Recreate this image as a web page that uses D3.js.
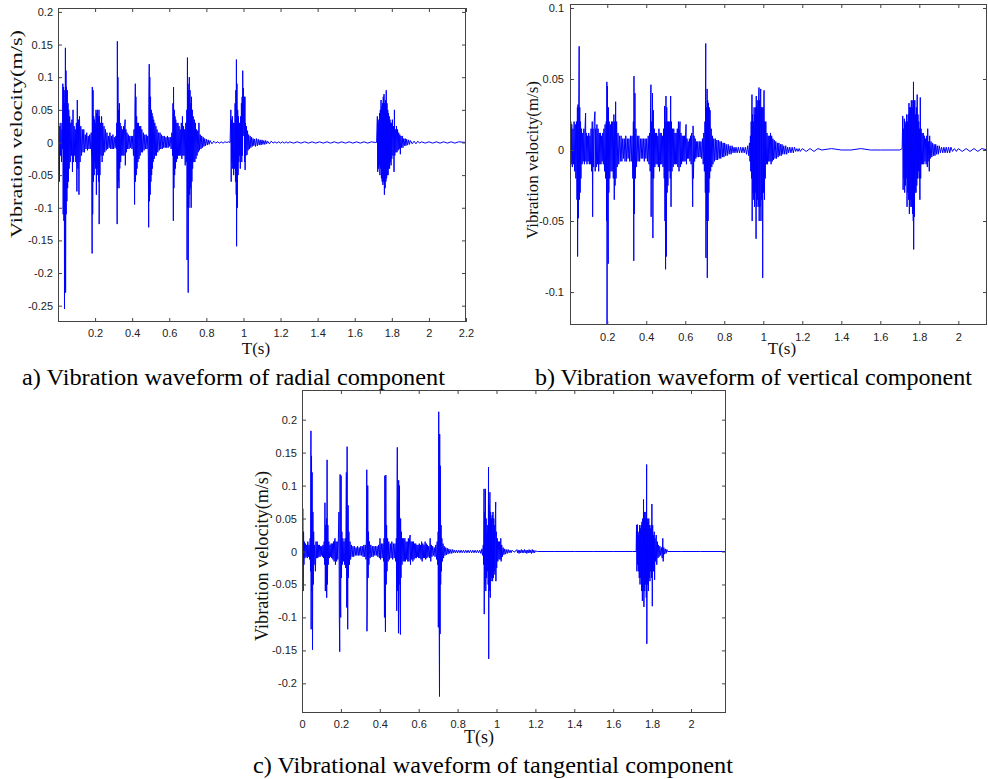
<!DOCTYPE html>
<html><head><meta charset="utf-8">
<script src="https://cdn.jsdelivr.net/npm/d3@7/dist/d3.min.js"></script>
<style>body{margin:0;background:#fff}svg{display:block}</style>
</head><body><svg id="chart" width="988" height="779"></svg>
<script>
// ---------- tick values ----------
const radialXTicks = [0.2,0.4,0.6,0.8,1,1.2,1.4,1.6,1.8,2,2.2];
const radialYTicks = [0.2,0.15,0.1,0.05,0,-0.05,-0.1,-0.15,-0.2,-0.25];
const verticalXTicks = [0.2,0.4,0.6,0.8,1,1.2,1.4,1.6,1.8,2];
const verticalYTicks = [0.1,0.05,0,-0.05,-0.1];
const tangentialXTicks = [0,0.2,0.4,0.6,0.8,1,1.2,1.4,1.6,1.8,2];
const tangentialYTicks = [0.2,0.15,0.1,0.05,0,-0.05,-0.1,-0.15,-0.2];

// ---------- texts ----------
const captions = ["a) Vibration waveform of radial component","b) Vibration waveform of vertical component","c) Vibrational waveform of tangential component"];
const yLabel = "Vibration velocity(m/s)";
const xLabel = "T(s)";

// ---------- series: [time (s), velocity (m/s)] ----------
const radialData = [[0.000,0.00],[0.002,-0.08],[0.004,0.03],[0.007,-0.06],[0.010,0.025],[0.013,-0.02],[0.016,0.03],[0.019,-0.03],[0.022,0.02],[0.024,-0.01],
[0.026,0.09],[0.028,-0.11],[0.030,0.085],[0.032,-0.12],[0.034,0.06],[0.035,-0.255],[0.037,0.08],[0.039,-0.11],[0.040,0.145],[0.041,-0.23],[0.043,0.11],[0.044,-0.11],[0.046,0.085],[0.048,-0.09],[0.050,0.08],[0.052,-0.07],[0.054,0.06],[0.056,-0.06],[0.058,0.05],[0.060,-0.04],[0.063,0.04],[0.066,-0.03],
[0.069,0.03],[0.072,-0.02],[0.075,0.035],[0.078,-0.045],[0.081,0.05],[0.084,-0.03],[0.087,0.025],[0.090,-0.02],[0.093,0.02],[0.096,-0.03],[0.099,0.03],[0.102,-0.075],[0.104,0.065],[0.107,-0.04],[0.110,0.035],[0.113,-0.08],[0.116,0.04],[0.119,-0.03],
[0.123,0.025],[0.127,-0.02],[0.131,0.02],[0.135,-0.015],[0.139,0.02],[0.143,-0.015],[0.147,0.012],[0.151,-0.01],[0.155,0.015],[0.159,-0.012],[0.163,0.01],[0.167,-0.01],[0.171,0.012],[0.175,-0.01],[0.179,0.015],
[0.182,-0.03],[0.184,-0.17],[0.185,0.085],[0.187,-0.11],[0.189,0.08],[0.191,-0.06],[0.193,0.04],[0.195,-0.05],[0.197,0.035],[0.199,-0.03],[0.201,0.03],[0.203,-0.04],[0.205,0.05],[0.207,-0.08],[0.209,0.045],[0.211,-0.05],[0.213,0.05],[0.215,-0.04],[0.217,0.04],[0.219,-0.06],[0.221,0.05],[0.222,-0.125],[0.224,0.04],[0.226,-0.05],[0.229,0.03],[0.232,-0.02],[0.235,0.04],[0.238,-0.03],[0.241,0.03],[0.244,-0.02],[0.248,0.025],[0.252,-0.015],[0.256,0.02],[0.260,-0.012],[0.264,0.015],[0.268,-0.01],[0.272,0.01],[0.276,-0.008],[0.280,0.015],[0.284,-0.01],[0.288,0.01],[0.292,-0.01],[0.296,0.012],[0.300,-0.01],[0.304,0.008],[0.308,-0.008],[0.312,0.01],[0.315,-0.01],
[0.317,0.03],[0.319,-0.125],[0.320,0.155],[0.322,-0.07],[0.323,0.1],[0.325,-0.06],[0.327,0.05],[0.329,-0.07],[0.331,0.06],[0.333,-0.04],[0.335,0.03],[0.338,-0.03],[0.341,0.025],[0.344,-0.02],[0.347,0.02],[0.350,-0.02],[0.353,0.025],[0.356,-0.02],[0.359,0.025],[0.362,0.035],[0.363,-0.035],[0.366,0.02],[0.369,-0.015],[0.372,0.015],[0.375,-0.01],[0.379,0.012],[0.383,-0.01],[0.387,0.01],[0.391,-0.008],[0.395,0.01],[0.399,-0.01],[0.403,0.01],[0.407,-0.02],[0.410,0.02],
[0.413,-0.095],[0.415,0.05],[0.417,0.09],[0.418,-0.06],[0.420,0.07],[0.422,-0.05],[0.424,0.04],[0.426,-0.04],[0.428,0.03],[0.431,-0.03],[0.434,0.03],[0.437,-0.025],[0.440,0.025],[0.443,-0.02],[0.446,0.025],[0.449,-0.015],[0.452,0.02],[0.456,-0.015],[0.460,0.015],[0.464,-0.012],[0.468,0.012],[0.472,-0.01],[0.476,0.012],[0.480,-0.01],[0.484,0.01],[0.487,-0.02],
[0.489,-0.13],[0.490,0.06],[0.492,0.12],[0.493,-0.09],[0.495,0.1],[0.497,-0.08],[0.499,0.07],[0.501,-0.06],[0.503,0.05],[0.505,-0.05],[0.507,0.045],[0.509,-0.04],[0.511,0.04],[0.513,-0.03],[0.516,0.035],[0.519,-0.025],[0.522,0.03],[0.525,-0.02],[0.528,0.025],[0.531,-0.02],[0.534,0.02],[0.538,-0.015],[0.542,0.015],[0.546,-0.012],[0.550,0.015],[0.554,-0.01],[0.558,0.012],[0.562,-0.01],[0.566,0.01],[0.570,-0.008],[0.574,0.01],[0.578,-0.008],[0.582,0.008],[0.586,-0.008],[0.590,0.01],[0.594,-0.008],[0.598,0.008],[0.602,-0.006],[0.606,0.008],[0.610,-0.01],[0.614,0.015],[0.618,-0.02],
[0.620,0.06],[0.622,-0.12],[0.623,0.085],[0.625,-0.07],[0.627,0.05],[0.629,-0.05],[0.631,0.04],[0.633,-0.04],[0.635,0.035],[0.638,-0.03],[0.641,0.03],[0.644,-0.025],[0.647,0.03],[0.650,-0.02],[0.653,0.025],[0.656,-0.02],[0.659,0.02],[0.662,-0.02],[0.665,0.03],[0.668,-0.025],[0.671,0.04],[0.674,-0.02],[0.677,0.025],[0.680,-0.02],[0.683,0.02],[0.686,-0.035],[0.689,0.03],[0.692,-0.03],[0.695,0.05],
[0.696,-0.18],[0.698,0.13],[0.699,-0.1],[0.701,0.09],[0.702,-0.23],[0.704,0.08],[0.706,-0.1],[0.708,0.1],[0.710,-0.08],[0.712,0.08],[0.714,-0.07],[0.716,0.06],[0.718,-0.1],[0.720,0.07],[0.722,-0.06],[0.724,0.05],[0.726,-0.04],[0.729,0.04],[0.732,-0.03],[0.735,0.035],[0.738,-0.03],[0.741,0.03],[0.744,-0.025],[0.747,0.02],[0.750,-0.02],[0.753,0.018],[0.756,-0.015],[0.760,0.03],[0.763,-0.012],[0.767,0.012],[0.771,-0.01],[0.775,0.01],[0.779,-0.008],[0.783,0.008],[0.787,-0.006],[0.791,0.006],[0.795,-0.005],[0.800,0.005],[0.805,-0.004],[0.810,0.004],[0.815,-0.003],[0.820,0.003],[0.830,-0.002],[0.840,0.002],[0.850,-0.001],[0.860,0.001],[0.870,-0.001],[0.880,0.001],[0.890,-0.001],[0.900,0.001],[0.910,0],[0.920,0.001],[0.928,0],
[0.932,0.05],[0.934,-0.06],[0.936,0.035],[0.938,-0.03],[0.940,0.04],[0.942,-0.04],[0.945,0.03],[0.947,-0.05],[0.950,0.03],[0.952,-0.04],[0.955,0.06],[0.957,-0.06],[0.959,0.08],[0.961,-0.08],[0.962,0.127],[0.963,-0.159],[0.965,0.09],[0.967,-0.1],[0.969,0.05],[0.971,-0.05],[0.973,0.04],[0.975,-0.03],[0.977,0.03],[0.979,-0.02],[0.981,0.03],[0.983,-0.04],[0.985,0.04],[0.987,-0.02],[0.989,0.06],[0.991,-0.03],[0.993,0.07],[0.995,-0.02],[0.996,0.11],[0.998,0.03],[1.000,0.083],[1.002,0.01],[1.004,0.07],[1.006,-0.03],[1.008,0.07],[1.009,-0.042],[1.011,0.03],[1.013,-0.02],[1.016,0.025],[1.019,-0.019],[1.022,0.018],[1.025,-0.012],[1.028,0.012],[1.032,-0.01],[1.036,0.01],[1.040,-0.008],[1.044,0.008],[1.048,-0.006],[1.052,0.006],[1.056,-0.005],[1.060,0.005],[1.065,-0.006],[1.070,0.006],[1.075,-0.005],[1.080,0.005],[1.085,-0.004],[1.090,0.004],[1.095,-0.004],[1.100,0.004],[1.105,-0.003],[1.110,0.003],[1.115,-0.003],[1.120,0.003],[1.125,-0.002],[1.130,0.002],[1.140,-0.002],[1.150,0.002],[1.160,-0.001],[1.170,0.001],[1.18,-0.001],[1.19,0.001],[1.20,-0.001],[1.21,0.001],[1.22,-0.001],[1.23,0.001],[1.24,-0.001],[1.25,0.001],[1.27,-0.001],[1.29,0.001],[1.31,-0.001],[1.33,0.001],[1.35,-0.001],[1.37,0.001],[1.39,-0.001],[1.41,0.001],[1.43,-0.001],[1.45,0.001],[1.47,-0.001],[1.49,0.001],[1.51,-0.001],[1.53,0.001],[1.55,-0.001],[1.57,0.001],[1.59,-0.001],[1.61,0.001],[1.63,-0.001],[1.65,0.001],[1.67,-0.001],[1.69,0.001],[1.71,0],[1.718,0],
[1.722,0.04],[1.724,-0.045],[1.726,0.03],[1.728,-0.04],[1.730,0.035],[1.732,-0.035],[1.734,0.045],[1.736,-0.05],[1.738,0.05],[1.740,-0.04],[1.742,0.065],[1.744,-0.055],[1.746,0.055],[1.748,-0.06],[1.750,0.06],[1.752,-0.065],[1.754,0.07],[1.756,-0.06],[1.758,0.074],[1.760,-0.08],[1.762,0.06],[1.764,-0.07],[1.766,0.065],[1.768,-0.06],[1.770,0.08],[1.772,-0.055],[1.774,0.06],[1.776,-0.05],[1.778,0.05],[1.780,-0.05],[1.782,0.045],[1.784,-0.04],[1.786,0.04],[1.788,-0.04],[1.790,0.035],[1.792,-0.03],[1.794,0.03],[1.796,-0.035],[1.798,0.03],[1.800,-0.025],[1.803,0.035],[1.806,-0.02],[1.809,0.025],[1.812,-0.045],[1.814,0.05],[1.816,-0.02],[1.819,0.02],[1.822,-0.015],[1.825,0.025],[1.828,-0.015],[1.831,0.02],[1.834,-0.012],[1.837,0.015],[1.840,-0.01],[1.843,0.012],[1.846,-0.018],[1.849,0.01],[1.852,-0.008],[1.856,0.01],[1.860,-0.008],[1.864,0.006],[1.868,-0.005],[1.872,0.006],[1.876,-0.005],[1.880,0.005],[1.885,-0.004],[1.890,0.004],[1.895,-0.003],[1.900,0.003],[1.91,-0.002],[1.92,0.002],[1.93,-0.002],[1.94,0.002],[1.95,-0.001],[1.96,0.001],[1.98,-0.001],[2.00,0.001],[2.02,-0.001],[2.04,0.001],[2.06,-0.001],[2.08,0.001],[2.10,-0.001],[2.12,0.001],[2.14,-0.001],[2.16,0.001],[2.2,0]];

const verticalData = [[0.009,0.024],[0.011,-0.03],[0.013,0.02],[0.015,-0.01],[0.018,0.018],[0.021,-0.012],[0.024,0.015],[0.027,-0.01],[0.030,0.02],[0.033,-0.015],[0.036,0.018],[0.039,-0.02],[0.042,0.02],[0.045,-0.035],[0.047,0.03],[0.048,-0.075],[0.050,0.032],[0.052,-0.048],[0.054,0.03],[0.056,0.073],[0.057,-0.035],[0.059,0.03],[0.061,-0.03],[0.063,0.02],[0.065,-0.02],[0.068,0.015],[0.071,-0.01],[0.074,0.012],[0.077,-0.008],[0.080,0.015],[0.083,-0.01],[0.086,0.015],[0.089,0.026],[0.090,-0.008],[0.093,0.012],[0.096,-0.01],[0.099,0.01],[0.102,-0.008],[0.105,0.012],[0.108,-0.01],[0.111,0.01],[0.114,-0.01],[0.117,0.015],[0.120,-0.015],[0.123,0.02],[0.125,-0.047],[0.127,0.015],[0.130,-0.012],[0.133,0.02],[0.137,0.027],[0.138,-0.015],[0.141,0.015],[0.144,-0.012],[0.147,0.018],[0.150,-0.01],[0.153,0.015],[0.156,-0.015],[0.159,0.012],[0.162,-0.01],[0.165,0.012],[0.168,-0.01],[0.171,0.01],[0.174,-0.008],[0.177,0.012],[0.180,-0.01],[0.183,0.015],[0.186,-0.015],[0.189,0.018],[0.192,-0.02],[0.195,0.02],[0.197,-0.05],[0.198,0.048],[0.199,-0.125],[0.201,0.045],[0.203,-0.04],[0.205,-0.08],[0.206,0.03],[0.208,-0.03],[0.210,0.02],[0.213,-0.02],[0.216,0.018],[0.219,-0.015],[0.222,0.02],[0.225,-0.015],[0.228,0.02],[0.231,-0.02],[0.234,0.025],[0.236,-0.035],[0.238,0.02],[0.240,-0.025],[0.243,0.034],[0.245,-0.02],[0.248,0.02],[0.251,-0.012],[0.255,0.012],[0.259,-0.01],[0.263,0.01],[0.267,-0.008],[0.271,0.01],[0.275,-0.008],[0.279,0.008],[0.283,-0.006],[0.287,0.008],[0.291,-0.008],[0.295,0.01],[0.299,-0.008],[0.303,0.008],[0.307,-0.006],[0.311,0.008],[0.315,-0.008],[0.319,0.01],[0.323,-0.008],[0.327,0.01],[0.331,-0.02],[0.334,0.02],[0.336,-0.078],[0.337,0.052],[0.339,-0.045],[0.342,0.04],[0.344,-0.02],[0.347,0.015],[0.350,-0.012],[0.354,0.01],[0.358,-0.008],[0.362,0.01],[0.366,-0.008],[0.370,0.008],[0.374,-0.006],[0.378,0.008],[0.382,-0.006],[0.386,0.008],[0.390,-0.008],[0.394,0.008],[0.398,-0.006],[0.402,0.008],[0.406,-0.008],[0.410,0.01],[0.414,-0.01],[0.417,0.012],[0.420,-0.015],[0.422,0.03],[0.424,0.046],[0.425,-0.047],[0.427,0.02],[0.429,-0.02],[0.432,0.04],[0.434,-0.062],[0.436,0.028],[0.438,-0.02],[0.441,0.015],[0.444,-0.012],[0.447,0.012],[0.450,-0.01],[0.453,0.012],[0.456,-0.01],[0.459,0.01],[0.462,-0.012],[0.465,0.015],[0.468,-0.015],[0.471,0.012],[0.474,-0.01],[0.477,0.012],[0.480,-0.01],[0.483,0.01],[0.486,-0.012],[0.489,0.015],[0.492,-0.02],[0.494,0.031],[0.496,-0.05],[0.497,0.02],[0.499,-0.084],[0.501,0.038],[0.503,-0.075],[0.505,0.03],[0.507,-0.03],[0.509,0.02],[0.511,-0.025],[0.514,0.02],[0.517,-0.015],[0.520,0.02],[0.523,-0.02],[0.525,0.038],[0.527,-0.04],[0.529,0.02],[0.532,-0.015],[0.535,0.015],[0.538,-0.012],[0.541,0.015],[0.544,-0.01],[0.547,0.012],[0.550,-0.01],[0.553,0.012],[0.556,-0.01],[0.559,0.015],[0.562,-0.012],[0.565,0.02],[0.568,-0.015],[0.571,0.015],[0.573,0.02],[0.575,-0.012],[0.578,0.012],[0.581,-0.01],[0.584,0.01],[0.587,-0.008],[0.590,0.01],[0.593,-0.008],[0.596,0.01],[0.599,-0.008],[0.602,0.012],[0.604,0.018],[0.606,-0.01],[0.609,0.008],[0.612,-0.006],[0.615,0.006],[0.618,-0.006],[0.621,0.008],[0.624,-0.008],[0.627,0.01],[0.630,-0.01],[0.633,0.012],[0.636,-0.015],[0.638,-0.04],[0.640,0.017],[0.642,-0.02],[0.645,0.01],[0.648,-0.008],[0.651,0.008],[0.654,-0.006],[0.657,0.006],[0.660,-0.005],[0.664,0.006],[0.668,-0.005],[0.672,0.006],[0.676,-0.005],[0.680,0.006],[0.684,-0.006],[0.688,0.008],[0.692,-0.01],[0.695,0.012],[0.698,-0.015],[0.701,0.02],[0.703,-0.03],[0.704,0.04],[0.705,0.075],[0.706,-0.076],[0.708,0.03],[0.710,-0.05],[0.712,0.043],[0.713,-0.09],[0.715,0.035],[0.717,-0.05],[0.719,0.033],[0.721,-0.03],[0.723,0.03],[0.725,-0.02],[0.727,0.028],[0.730,-0.015],[0.733,0.015],[0.736,-0.012],[0.739,0.01],[0.742,-0.01],[0.746,0.008],[0.750,-0.008],[0.754,0.008],[0.758,-0.007],[0.762,0.007],[0.766,-0.007],[0.770,0.007],[0.774,-0.006],[0.778,0.006],[0.782,-0.006],[0.786,0.006],[0.790,-0.005],[0.794,0.005],[0.798,-0.005],[0.802,0.005],[0.806,-0.004],[0.810,0.004],[0.815,-0.004],[0.820,0.004],[0.825,-0.003],[0.830,0.003],[0.835,-0.003],[0.840,0.003],[0.845,-0.002],[0.850,0.002],[0.855,-0.002],[0.860,0.002],[0.866,-0.002],[0.872,0.002],[0.878,-0.002],[0.884,0.002],[0.890,-0.002],[0.896,0.002],[0.902,-0.002],[0.908,0.002],[0.914,-0.003],[0.920,0.003],[0.925,-0.004],[0.929,0.005],
[0.932,-0.008],[0.934,0.01],[0.936,-0.015],[0.938,0.02],[0.940,-0.02],[0.942,0.039],[0.943,-0.05],[0.945,0.025],[0.947,-0.03],[0.949,0.02],[0.951,-0.035],[0.953,0.03],[0.955,-0.04],[0.957,0.025],[0.959,-0.03],[0.961,0.03],[0.963,-0.0625],[0.964,0.038],[0.966,-0.04],[0.968,0.03],[0.970,-0.035],[0.972,0.035],[0.974,-0.04],[0.976,0.035],[0.978,0.044],[0.979,-0.05],[0.981,0.035],[0.983,-0.04],[0.985,0.04],[0.987,0.043],[0.988,-0.05],[0.990,0.03],[0.992,-0.035],[0.994,0.03],[0.996,-0.04],[0.997,-0.09],[0.999,0.03],[1.001,-0.03],[1.003,0.035],[1.004,0.042],[1.006,-0.035],[1.008,0.02],[1.010,-0.02],[1.013,0.02],[1.016,-0.01],[1.019,0.012],[1.022,-0.01],[1.025,0.01],[1.028,-0.008],[1.031,0.01],[1.034,-0.008],[1.037,0.012],[1.040,-0.01],[1.043,0.01],[1.046,-0.008],[1.049,0.008],[1.052,-0.007],[1.056,0.007],[1.060,-0.006],[1.064,0.006],[1.068,-0.006],[1.072,0.005],[1.076,-0.005],[1.080,0.005],[1.084,-0.004],[1.088,0.004],[1.092,-0.004],[1.096,0.004],[1.100,-0.003],[1.105,0.003],[1.110,-0.003],[1.115,0.003],[1.120,-0.003],[1.125,0.002],[1.130,-0.002],[1.136,0.002],[1.142,-0.002],[1.148,0.002],[1.154,-0.002],[1.160,0.002],[1.166,-0.001],[1.172,0.001],[1.178,-0.001],[1.184,0.001],[1.19,-0.001],[1.20,0.001],[1.22,-0.001],[1.24,0.001],[1.26,-0.001],[1.28,0.001],[1.30,0],[1.35,0.001],[1.40,0],[1.45,0],[1.50,0.001],[1.55,0],[1.60,0],[1.65,0],[1.70,0],[1.712,0.001],
[1.715,0.024],[1.717,-0.028],[1.719,0.015],[1.721,-0.02],[1.723,0.022],[1.725,-0.03],[1.727,0.02],[1.729,-0.025],[1.731,0.018],[1.733,-0.02],[1.735,0.025],[1.737,-0.04],[1.739,0.02],[1.741,-0.03],[1.743,0.025],[1.745,-0.035],[1.747,0.033],[1.749,-0.045],[1.751,0.03],[1.753,-0.04],[1.755,0.03],[1.757,-0.035],[1.759,0.035],[1.761,-0.04],[1.763,0.03],[1.765,-0.045],[1.767,0.035],[1.769,-0.05],[1.770,0.048],[1.771,-0.07],[1.773,0.035],[1.775,-0.047],[1.777,0.035],[1.779,-0.03],[1.781,0.025],[1.783,-0.03],[1.785,0.03],[1.787,-0.025],[1.789,0.039],[1.791,-0.02],[1.793,0.025],[1.795,-0.015],[1.797,0.02],[1.799,-0.02],[1.801,0.015],[1.803,-0.035],[1.805,0.037],[1.807,-0.02],[1.809,0.015],[1.811,-0.01],[1.814,0.012],[1.817,-0.01],[1.820,0.012],[1.823,-0.01],[1.826,0.01],[1.829,-0.008],[1.832,0.008],[1.835,-0.01],[1.838,0.01],[1.841,-0.012],[1.843,0.015],[1.845,-0.008],[1.848,0.006],[1.851,-0.015],[1.853,0.01],[1.856,-0.006],[1.860,0.006],[1.864,-0.005],[1.868,0.005],[1.872,-0.004],[1.876,0.004],[1.880,-0.004],[1.884,0.004],[1.888,-0.003],[1.892,0.003],[1.897,-0.003],[1.902,0.003],[1.908,-0.002],[1.914,0.002],[1.920,-0.002],[1.926,0.002],[1.932,-0.002],[1.938,0.002],[1.944,-0.002],[1.950,0.002],[1.956,-0.002],[1.962,0.002],[1.970,-0.001],[1.980,0.001],[1.990,-0.001],[2.000,0.001],[2.020,-0.001],[2.040,0.001],[2.060,-0.001],[2.080,0.001],[2.100,-0.001],[2.120,0.001],[2.150,0]];

const tangentialData = [[0.001,0.13],[0.002,-0.095],[0.004,0.065],[0.006,-0.06],[0.008,0.03],[0.010,-0.02],[0.012,0.015],[0.015,-0.01],[0.018,0.012],[0.021,-0.008],[0.024,0.01],[0.027,-0.01],[0.030,0.015],[0.033,-0.008],[0.036,0.01],[0.039,-0.012],[0.042,0.02],[0.044,-0.03],[0.046,0.183],[0.047,-0.118],[0.049,0.145],[0.050,-0.06],[0.052,0.12],[0.054,-0.149],[0.056,0.06],[0.058,-0.05],[0.060,0.03],[0.062,-0.02],[0.065,0.01],[0.069,-0.03],[0.072,0.015],[0.075,-0.01],[0.078,0.015],[0.081,-0.01],[0.084,0.01],[0.087,-0.008],[0.090,0.01],[0.093,-0.008],[0.096,0.008],[0.099,-0.006],[0.102,0.008],[0.105,-0.008],[0.108,0.01],[0.111,-0.01],[0.114,0.015],[0.116,-0.02],[0.118,0.074],[0.120,-0.06],[0.122,0.04],[0.124,-0.06],[0.126,0.05],[0.127,-0.07],[0.129,0.139],[0.131,-0.05],[0.133,0.04],[0.135,-0.02],[0.138,0.015],[0.141,-0.01],[0.144,0.01],[0.147,-0.008],[0.150,0.012],[0.153,-0.01],[0.156,0.012],[0.159,-0.012],[0.162,0.015],[0.165,-0.015],[0.168,0.018],[0.170,0.02],[0.172,-0.02],[0.175,0.015],[0.178,-0.015],[0.181,0.015],[0.184,-0.012],[0.187,0.02],[0.190,0.06],[0.192,-0.1],[0.194,-0.152],[0.196,0.117],[0.197,-0.06],[0.199,-0.1],[0.201,0.115],[0.203,-0.04],[0.205,0.03],[0.207,-0.02],[0.210,0.02],[0.213,-0.015],[0.216,0.015],[0.219,-0.02],[0.222,0.02],[0.225,-0.025],[0.228,0.12],[0.230,-0.085],[0.232,0.159],[0.234,-0.05],[0.235,-0.118],[0.237,0.07],[0.239,-0.04],[0.241,0.03],[0.244,-0.02],[0.247,0.015],[0.250,-0.012],[0.254,0.01],[0.258,-0.008],[0.262,0.008],[0.266,-0.008],[0.270,0.008],[0.274,-0.006],[0.278,0.006],[0.282,-0.006],[0.286,0.008],[0.290,-0.006],[0.294,0.006],[0.298,-0.006],[0.302,0.008],[0.306,-0.006],[0.310,0.008],[0.314,-0.008],[0.318,0.01],[0.322,-0.008],[0.326,0.01],[0.329,-0.012],[0.331,0.02],[0.333,0.124],[0.334,-0.121],[0.336,-0.06],[0.338,0.1],[0.340,-0.04],[0.342,0.03],[0.344,-0.02],[0.347,0.015],[0.350,-0.01],[0.354,0.01],[0.358,-0.008],[0.362,0.008],[0.366,-0.008],[0.370,0.008],[0.374,-0.006],[0.378,0.008],[0.382,-0.006],[0.386,0.008],[0.390,-0.008],[0.394,0.01],[0.398,-0.01],[0.401,0.02],[0.404,-0.012],[0.408,0.012],[0.412,-0.01],[0.416,0.012],[0.420,-0.015],[0.422,0.02],[0.424,-0.1],[0.426,0.115],[0.428,-0.07],[0.429,-0.122],[0.431,0.116],[0.433,-0.05],[0.435,0.04],[0.437,-0.03],[0.440,0.02],[0.443,-0.015],[0.446,0.015],[0.450,-0.012],[0.454,0.012],[0.458,-0.01],[0.462,0.015],[0.466,-0.012],[0.470,0.012],[0.474,-0.01],[0.478,0.012],[0.482,-0.015],[0.485,0.02],[0.487,-0.09],[0.488,0.05],[0.490,0.158],[0.492,-0.06],[0.494,0.08],[0.496,-0.124],[0.497,0.108],[0.499,-0.05],[0.501,0.1],[0.503,-0.06],[0.506,-0.126],[0.507,0.05],[0.509,-0.04],[0.511,0.03],[0.514,-0.02],[0.517,0.02],[0.520,-0.015],[0.523,0.02],[0.526,-0.015],[0.529,0.02],[0.532,-0.015],[0.535,0.015],[0.538,-0.012],[0.541,0.015],[0.544,-0.015],[0.547,0.02],[0.550,-0.015],[0.553,0.02],[0.556,0.025],[0.558,-0.02],[0.561,0.015],[0.564,-0.012],[0.567,0.015],[0.570,-0.015],[0.573,0.015],[0.576,-0.012],[0.579,0.012],[0.582,-0.01],[0.585,0.012],[0.588,-0.01],[0.591,0.01],[0.594,-0.008],[0.597,0.01],[0.600,-0.01],[0.603,0.012],[0.606,-0.01],[0.609,0.01],[0.612,-0.012],[0.615,0.015],[0.618,-0.015],[0.621,0.012],[0.624,-0.01],[0.627,0.01],[0.630,-0.01],[0.633,0.015],[0.636,-0.012],[0.639,0.012],[0.642,-0.01],[0.645,0.01],[0.648,-0.008],[0.651,0.008],[0.655,-0.01],[0.659,0.02],[0.662,-0.015],[0.665,0.01],[0.668,-0.008],[0.672,0.008],[0.676,-0.006],[0.680,0.006],[0.684,-0.008],[0.688,0.01],[0.692,-0.012],[0.695,0.015],[0.698,-0.02],[0.700,0.03],[0.701,-0.115],[0.703,0.212],[0.705,-0.08],[0.707,-0.22],[0.708,0.178],[0.710,-0.125],[0.711,0.13],[0.713,-0.05],[0.715,0.04],[0.717,-0.03],[0.719,0.02],[0.722,-0.015],[0.725,0.012],[0.728,-0.01],[0.731,0.008],[0.735,-0.006],[0.739,0.006],[0.743,-0.005],[0.747,0.005],[0.751,-0.004],[0.755,0.004],[0.760,-0.003],[0.765,0.003],[0.770,-0.003],[0.775,0.003],[0.780,-0.002],[0.785,0.002],[0.790,-0.002],[0.795,0.002],[0.800,-0.002],[0.806,0.002],[0.812,-0.002],[0.818,0.002],[0.824,-0.002],[0.830,0.002],[0.836,-0.002],[0.842,0.002],[0.848,-0.002],[0.854,0.002],[0.860,-0.002],[0.866,0.002],[0.872,-0.002],[0.878,0.002],[0.884,-0.002],[0.890,0.002],[0.896,-0.002],[0.902,0.002],[0.908,-0.002],[0.914,0.002],[0.920,-0.003],[0.925,0.004],[0.929,-0.006],[0.932,0.01],[0.934,-0.02],
[0.936,0.095],[0.937,-0.095],[0.939,0.06],[0.941,-0.05],[0.943,0.095],[0.945,-0.06],[0.947,0.05],[0.949,-0.04],[0.951,0.03],[0.953,-0.03],[0.955,0.04],[0.957,-0.05],[0.959,0.128],[0.960,-0.163],[0.962,0.07],[0.964,-0.06],[0.966,0.09],[0.968,-0.07],[0.970,0.06],[0.972,-0.045],[0.974,0.05],[0.976,-0.04],[0.978,0.055],[0.980,-0.045],[0.982,0.06],[0.984,-0.04],[0.986,0.05],[0.988,-0.03],[0.990,0.04],[0.992,-0.035],[0.994,0.05],[0.996,0.075],[0.997,-0.045],[0.999,0.03],[1.001,-0.025],[1.004,0.02],[1.007,-0.015],[1.010,0.015],[1.013,-0.012],[1.016,0.015],[1.019,-0.012],[1.022,0.02],[1.024,-0.015],[1.027,0.01],[1.030,-0.008],[1.034,0.006],[1.038,-0.005],[1.042,0.004],[1.046,-0.004],[1.050,0.003],[1.055,-0.003],[1.060,0.003],[1.065,-0.002],[1.070,0.002],[1.075,-0.002],[1.080,0.002],[1.090,-0.001],[1.100,0.001],[1.105,0.003],[1.108,-0.002],[1.112,0.002],[1.116,-0.003],[1.120,0.002],[1.124,-0.002],[1.128,0.003],[1.132,-0.002],[1.136,0.002],[1.140,-0.002],[1.144,0.003],[1.148,-0.002],[1.152,0.002],[1.156,-0.003],[1.160,0.002],[1.164,-0.002],[1.168,0.003],[1.172,-0.002],[1.176,0.002],[1.180,-0.003],[1.184,0.003],[1.188,-0.002],[1.192,0.002],[1.196,-0.002],[1.200,0.001],[1.210,0],[1.30,0],[1.40,0],[1.50,0],[1.60,0],[1.70,0],[1.718,0],
[1.720,0.04],[1.722,-0.03],[1.724,0.041],[1.726,-0.02],[1.728,0.03],[1.730,-0.03],[1.732,0.025],[1.734,-0.04],[1.736,0.04],[1.738,-0.05],[1.740,0.035],[1.742,-0.04],[1.744,0.04],[1.746,-0.06],[1.748,0.045],[1.750,-0.075],[1.752,0.05],[1.754,-0.06],[1.756,0.079],[1.758,-0.084],[1.760,0.06],[1.762,-0.06],[1.764,0.05],[1.766,-0.05],[1.768,0.06],[1.770,-0.07],[1.772,0.132],[1.773,-0.14],[1.775,0.05],[1.777,-0.05],[1.779,0.045],[1.781,-0.06],[1.783,0.05],[1.785,-0.04],[1.787,0.04],[1.789,-0.045],[1.791,0.035],[1.793,-0.03],[1.795,0.04],[1.797,-0.04],[1.799,0.072],[1.801,-0.083],[1.803,0.04],[1.805,-0.03],[1.807,0.025],[1.809,-0.03],[1.811,0.03],[1.813,-0.043],[1.815,0.02],[1.818,-0.015],[1.821,0.025],[1.824,-0.02],[1.827,0.015],[1.830,-0.01],[1.833,0.01],[1.836,-0.008],[1.840,0.008],[1.844,-0.006],[1.848,0.006],[1.852,-0.01],[1.855,0.02],[1.857,-0.015],[1.860,0.006],[1.864,-0.004],[1.868,0.004],[1.872,-0.003],[1.876,0.003],[1.880,0],[1.95,0],[2.05,0],[2.18,0]];

// ---------- drawing ----------
const svg = d3.select("#chart");
const SERIF = "'Liberation Serif','Times New Roman',serif";
const SANS = "'Liberation Sans',Arial,sans-serif";
const fmt = d => String(+d.toFixed(2));

function panel(o) {
  const x = d3.scaleLinear().domain(o.xDomain).range([o.left, o.right]);
  const y = d3.scaleLinear().domain(o.yDomain).range([o.bottom, o.top]);
  const g = svg.append("g");
  const clipId = "clip" + o.id;
  g.append("clipPath").attr("id", clipId).append("rect")
    .attr("x", o.left).attr("y", o.top).attr("width", o.right - o.left).attr("height", o.bottom - o.top);

  const line = d3.line().x(d => x(d[0])).y(d => y(d[1]));
  g.append("path").datum(o.data).attr("clip-path", `url(#${clipId})`)
    .attr("d", line).attr("fill", "none").attr("stroke", "#0000ff").attr("stroke-width", 1)
    .attr("stroke-linejoin", "miter");

  const tickLen = 4;
  const styleAxis = sel => {
    sel.select(".domain").remove();
    sel.selectAll(".tick line").attr("stroke", "#444");
    sel.selectAll(".tick text").attr("fill", "#222").style("font-family", SANS).style("font-size", o.tickFont + "px");
  };
  g.append("g").attr("transform", `translate(0,${o.bottom})`)
    .call(d3.axisBottom(x).tickValues(o.xTicks).tickSize(-tickLen).tickPadding(o.xPad).tickFormat(fmt)).call(styleAxis);
  g.append("g").attr("transform", `translate(0,${o.top})`)
    .call(d3.axisTop(x).tickValues(o.xTicks).tickSize(-tickLen).tickFormat("")).call(styleAxis);
  g.append("g").attr("transform", `translate(${o.left},0)`)
    .call(d3.axisLeft(y).tickValues(o.yTicks).tickSize(-tickLen).tickPadding(o.yPad).tickFormat(fmt)).call(styleAxis);
  g.append("g").attr("transform", `translate(${o.right},0)`)
    .call(d3.axisRight(y).tickValues(o.yTicks).tickSize(-tickLen).tickFormat("")).call(styleAxis);
  g.selectAll(".tick text").attr("font-size", null);
  g.selectAll("g").attr("font-family", null).attr("font-size", null);

  g.append("rect").attr("x", o.left + 0.5).attr("y", o.top + 0.5)
    .attr("width", o.right - o.left - 1).attr("height", o.bottom - o.top - 1)
    .attr("fill", "none").attr("stroke", "#444").attr("stroke-width", 1);

  g.append("text").attr("transform", `translate(${o.yLabelX},${o.yLabelY}) rotate(-90)`)
    .attr("text-anchor", "middle").attr("dominant-baseline", "central")
    .style("font-family", SERIF).style("font-size", o.yLabelFont + "px").attr("fill", "#111")
    .attr("textLength", o.yLabelLen).attr("lengthAdjust", "spacingAndGlyphs").text(yLabel);
  g.append("text").attr("x", o.xLabelX).attr("y", o.xLabelY).attr("text-anchor", "middle")
    .style("font-family", SERIF).style("font-size", o.xLabelFont + "px").attr("fill", "#111").text(xLabel);
  g.append("text").attr("x", o.capX).attr("y", o.capY)
    .style("font-family", SERIF).style("font-size", o.capFont + "px").attr("fill", "#000")
    .attr("textLength", o.capLen).attr("lengthAdjust", "spacingAndGlyphs").text(o.caption);
}

panel({id: "a", data: radialData, xDomain: [0, 2.2], yDomain: [-0.275, 0.206],
  left: 58, right: 466, top: 8, bottom: 322, xTicks: radialXTicks, yTicks: radialYTicks,
  tickFont: 11, xPad: 7, yPad: 5,
  yLabelX: 16, yLabelY: 134, yLabelFont: 17, yLabelLen: 208,
  xLabelX: 256, xLabelY: 354, xLabelFont: 17,
  caption: captions[0], capX: 22, capY: 385, capFont: 23, capLen: 423});

panel({id: "b", data: verticalData, xDomain: [0.009, 2.147], yDomain: [-0.1232, 0.1028],
  left: 570, right: 987, top: 4, bottom: 325, xTicks: verticalXTicks, yTicks: verticalYTicks,
  tickFont: 11, xPad: 8, yPad: 6,
  yLabelX: 532, yLabelY: 160, yLabelFont: 17, yLabelLen: 158,
  xLabelX: 782, xLabelY: 354, xLabelFont: 17,
  caption: captions[1], capX: 535, capY: 385, capFont: 23, capLen: 437});

panel({id: "c", data: tangentialData, xDomain: [0, 2.18], yDomain: [-0.245, 0.245],
  left: 302, right: 726, top: 390, bottom: 713, xTicks: tangentialXTicks, yTicks: tangentialYTicks,
  tickFont: 11, xPad: 7, yPad: 5,
  yLabelX: 262, yLabelY: 556, yLabelFont: 18, yLabelLen: 170,
  xLabelX: 479, xLabelY: 743, xLabelFont: 18,
  caption: captions[2], capX: 253, capY: 773, capFont: 23, capLen: 480});
</script>
</body></html>
